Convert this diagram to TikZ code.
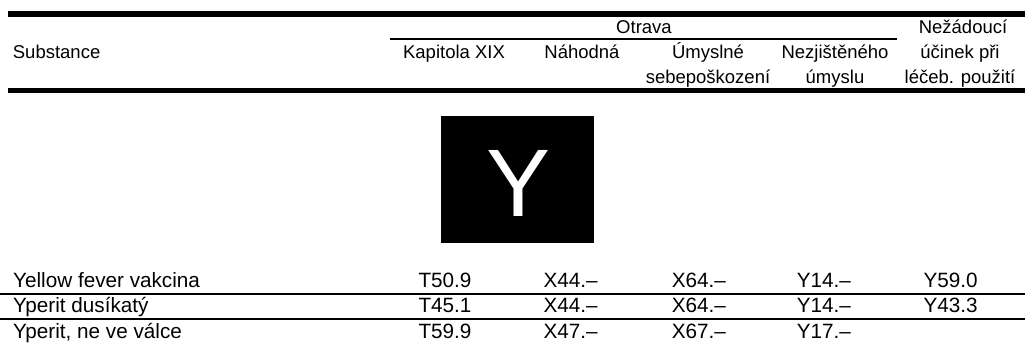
\documentclass[tikz,border=0pt]{standalone}
\usepackage{fontspec}
\setmainfont{Liberation Sans}
\begin{document}
\begin{tikzpicture}[x=1pt,y=-1pt,
  hd/.style={inner sep=0pt,anchor=base,font=\fontsize{18.5}{22}\selectfont},
  hdl/.style={inner sep=0pt,anchor=base west,font=\fontsize{18.5}{22}\selectfont},
  cell/.style={inner sep=0pt,anchor=base west,font=\fontsize{20.7}{24}\selectfont},
  thickrule/.style={line width=5.6pt},
  thinrule/.style={line width=1.3pt},
  midrule/.style={line width=2.6pt}]
\useasboundingbox (0,0) rectangle (1025,345);
% rules
\coordinate (t1) at (8,13.8);   \coordinate (t2) at (1025,13.8);
\coordinate (b1) at (8,90.5);   \coordinate (b2) at (1025,90.5);
\coordinate (o1) at (390,39);   \coordinate (o2) at (897,39);
\coordinate (r1a) at (0,294);   \coordinate (r1b) at (1025,294);
\coordinate (r2a) at (0,319);   \coordinate (r2b) at (1025,319);
\draw[thickrule] (t1) -- (t2);
\draw[thickrule] (b1) -- (b2);
\draw[midrule] (o1) -- (o2);
\draw[thinrule] (r1a) -- (r1b);
\draw[thinrule] (r2a) -- (r2b);
% header
\node[hdl] (hsub) at (12.7,59) {Substance};
\node[hd] (hotr) at (644,33.5) {Otrava};
\node[hd] (hkap) at (454,59) {Kapitola XIX};
\node[hd] (hnah) at (582,59) {Náhodná};
\node[hd] (hum1) at (708,59) {Úmyslné};
\node[hd] (hum2) at (708,84) {sebepoškození};
\node[hd] (hnez1) at (835,59) {Nezjištěného};
\node[hd] (hnez2) at (835,84) {úmyslu};
\node[hd] (hned1) at (963,33.5) {Nežádoucí};
\node[hd] (hned2) at (960,59) {účinek při};
\node[hd] (hned3) at (960,84) {léčeb. použití};
% letter box
\node[fill=black,inner sep=0pt,minimum width=153pt,minimum height=127pt] (ybox) at (517.5,179.5) {};
\node[inner sep=0pt,anchor=base,text=white,font=\fontsize{96}{110}\selectfont] (yletter) at (518.5,216.5) {Y};
% rows
\node[cell] (a1) at (13,287.5) {Yellow fever vakcina};
\node[cell] (a2) at (418.3,287.5) {T50.9};
\node[cell] (a3) at (543.3,287.5) {X44.–};
\node[cell] (a4) at (671.7,287.5) {X64.–};
\node[cell] (a5) at (796.7,287.5) {Y14.–};
\node[cell] (a6) at (923.3,287.5) {Y59.0};
\node[cell] (b1n) at (13,312.7) {Yperit dusíkatý};
\node[cell] (b2n) at (418.3,312.7) {T45.1};
\node[cell] (b3n) at (543.3,312.7) {X44.–};
\node[cell] (b4n) at (671.7,312.7) {X64.–};
\node[cell] (b5n) at (796.7,312.7) {Y14.–};
\node[cell] (b6n) at (923.3,312.7) {Y43.3};
\node[cell] (c1) at (13,338.3) {Yperit, ne ve válce};
\node[cell] (c2) at (418.3,338.3) {T59.9};
\node[cell] (c3) at (543.3,338.3) {X47.–};
\node[cell] (c4) at (671.7,338.3) {X67.–};
\node[cell] (c5) at (796.7,338.3) {Y17.–};
\end{tikzpicture}
\end{document}
